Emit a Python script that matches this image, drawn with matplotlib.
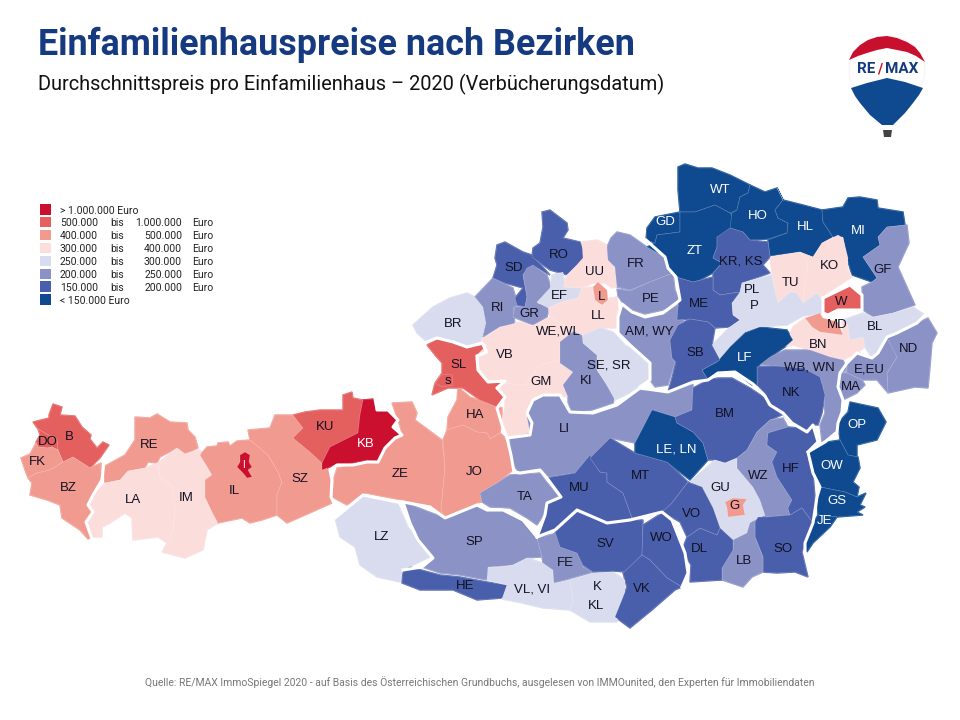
import matplotlib
matplotlib.use('Agg')
import matplotlib.pyplot as plt
from matplotlib.patches import Polygon, Rectangle, Ellipse

plt.rcParams['font.family'] = ['Roboto', 'DejaVu Sans']

legend_colors = ['#CB0F2E', '#E4605F', '#F19A90', '#FBDDDC', '#D9DCEE', '#8A92C6', '#4A5FAB', '#0F4A90']
legend_from = ['', '500.000', '400.000', '300.000', '250.000', '200.000', '150.000', '']
legend_to = ['', '1.000.000', '500.000', '400.000', '300.000', '250.000', '200.000', '']
legend_whole = ['> 1.000.000 Euro', '', '', '', '', '', '', '< 150.000 Euro']

# district codes per price class, same order as the legend
price_classes = [
    ['I', 'KB'],
    ['B', 'DO', 'KU', 'SL', 's', 'W'],
    ['FK', 'BZ', 'RE', 'IL', 'SZ', 'ZE', 'HA', 'JO', 'L', 'MD', 'G'],
    ['LA', 'IM', 'UU', 'LL', 'VB', 'GM', 'TU', 'KO', 'BN'],
    ['BR', 'EF', 'SE', 'P', 'BL', 'LZ', 'VL', 'K', 'GU'],
    ['RI', 'GR', 'FR', 'PE', 'AM', 'KI', 'LI', 'TA', 'SP', 'FE', 'GF', 'ND', 'EU', 'MA', 'WB', 'WZ', 'LB'],
    ['SD', 'RO', 'KR', 'ME', 'SB', 'NK', 'BM', 'MU', 'MT', 'SV', 'WO', 'VK', 'HE', 'VO', 'DL', 'SO', 'HF'],
    ['WT', 'GD', 'ZT', 'HO', 'HL', 'MI', 'LF', 'LE', 'OP', 'OW', 'GS', 'JE'],
]

# district outlines in pixels
west = {
    'B': [(49,415),(53,404),(62,407),(60,415),(75,416),(82,427),(91,435),(90,439),(97,448),(103,442),(109,445),(100,458),(90,468),(73,457),(63,462),(58,450),(57,440),(38,429),(33,422),(49,418)],
    'DO': [(38,429),(57,440),(58,450),(52,447),(48,448),(38,447),(36,442),(40,435)],
    'FK': [(36,443),(38,447),(48,448),(52,447),(58,450),(63,462),(50,470),(37,473),(28,478),(25,470),(21,458),(30,454)],
    'BZ': [(28,478),(37,473),(50,470),(63,462),(73,457),(90,468),(101,463),(101,477),(99,485),(92,495),(88,505),(93,512),(86,522),(92,537),(88,539),(80,530),(62,518),(60,505),(47,500),(30,495),(32,483)],
    'RE': [(135,417),(150,418),(157,414),(170,422),(187,423),(188,430),(195,437),(198,448),(185,454),(177,448),(160,457),(157,463),(148,462),(145,468),(128,471),(120,480),(105,483),(103,467),(125,455),(135,440)],
    'LA': [(93,495),(105,483),(120,480),(128,471),(145,468),(158,463),(160,477),(173,487),(175,510),(173,532),(167,543),(158,537),(133,540),(132,518),(125,513),(110,523),(102,527),(102,537),(92,537),(86,522),(93,512),(88,505)],
    'IM': [(158,463),(177,448),(185,454),(200,450),(202,458),(207,465),(212,475),(205,480),(205,497),(213,512),(218,523),(207,530),(203,550),(185,558),(162,552),(167,543),(173,532),(175,510),(173,487),(160,477)],
    'IL': [(200,455),(207,447),(217,446),(218,443),(228,442),(230,446),(237,441),(250,440),(268,455),(278,472),(282,482),(277,495),(277,515),(262,520),(250,523),(242,518),(218,523),(212,512),(205,497),(205,480),(212,475)],
    'SZ': [(248,430),(270,428),(275,415),(293,415),(303,428),(293,438),(310,452),(322,463),(330,472),(332,503),(312,512),(287,523),(277,515),(277,495),(282,482),(278,472),(268,455),(250,440)],
    'KU': [(293,415),(305,412),(320,410),(343,410),(343,395),(352,392),(353,398),(363,400),(360,415),(358,433),(330,447),(322,463),(310,452),(293,438),(303,428)],
    'KB': [(363,400),(373,399),(377,410),(388,410),(398,420),(393,427),(402,435),(395,438),(385,448),(378,462),(367,460),(353,463),(337,464),(330,467),(322,470),(322,463),(330,447),(358,433),(360,415)],
    'I': [(240,455),(245,452),(250,455),(249,462),(252,467),(248,470),(252,477),(247,478),(243,473),(237,467),(240,462)],
    'LZ': [(335,518),(363,495),(397,502),(408,527),(430,557),(403,570),(400,582),(377,577),(360,565),(355,547),(340,537)],
}

salzburg = {
    'ZE': [(392,403),(412,402),(417,413),(415,420),(442,440),(445,468),(441,510),(445,517),(430,507),(402,500),(365,493),(347,505),(332,497),(334,478),(337,468),(353,465),(367,462),(378,464),(385,450),(395,440),(403,436),(398,420)],
    'HA': [(458,387),(470,397),(487,403),(502,408),(502,420),(500,433),(490,439),(487,433),(477,432),(463,425),(447,430),(448,417),(457,400)],
    'JO': [(447,430),(463,425),(477,432),(487,433),(490,439),(500,433),(508,440),(510,453),(513,470),(497,483),(480,493),(482,502),(477,503),(462,512),(445,517),(441,510),(445,468),(443,440)],
    'SL': [(427,345),(437,339),(453,342),(467,348),(482,345),(485,352),(475,355),(477,370),(487,382),(503,382),(495,388),(505,397),(497,407),(480,400),(463,388),(448,388),(432,395),(435,383),(442,373),(442,363),(435,355)],
    's': [(435,383),(442,374),(452,375),(453,385),(442,387)],
    'TA': [(480,493),(497,483),(510,475),(540,473),(545,480),(560,498),(547,503),(545,513),(537,525),(527,518),(510,508),(490,507),(482,502)],
}

upper_austria = {
    'BR': [(413,325),(433,307),(450,298),(467,293),(475,297),(483,307),(486,323),(480,345),(467,347),(453,342),(437,337),(427,342),(417,333)],
    'RI': [(475,297),(493,278),(513,288),(518,305),(513,308),(515,325),(500,327),(483,337),(486,323),(483,307)],
    'SD': [(495,258),(497,245),(505,242),(523,252),(532,255),(550,275),(537,268),(527,270),(523,275),(527,297),(525,307),(517,305),(515,298),(523,288),(505,283),(493,278),(497,265)],
    'RO': [(542,212),(550,210),(567,223),(568,230),(563,238),(580,242),(587,258),(575,267),(567,275),(550,270),(532,257),(533,248),(540,243),(543,227)],
    'GR': [(527,268),(533,265),(547,275),(552,290),(537,303),(550,307),(547,317),(533,325),(513,317),(515,307),(525,307),(527,297),(523,275)],
    'EF': [(552,275),(563,272),(565,287),(582,288),(578,298),(562,302),(548,308),(537,302),(550,288)],
    'UU': [(563,287),(567,275),(575,267),(583,258),(582,242),(597,240),(607,245),(608,260),(615,267),(617,287),(612,288),(605,283),(593,283),(582,288)],
    'LL': [(562,302),(578,298),(582,288),(593,287),(595,300),(602,305),(610,298),(617,297),(618,310),(617,328),(600,328),(583,337),(573,330),(550,317),(548,308)],
    'L': [(593,287),(598,282),(607,290),(608,300),(602,305),(595,300)],
    'VB': [(481,340),(500,327),(520,322),(533,326),(550,317),(573,331),(560,342),(560,360),(540,365),(525,385),(503,383),(490,382),(480,370),(477,355),(487,345)],
    'GM': [(540,365),(560,360),(560,363),(573,372),(563,385),(568,397),(550,395),(533,400),(527,413),(530,433),(530,437),(507,437),(502,423),(505,408),(505,397),(497,388),(503,383),(525,385)],
    'KI': [(573,332),(582,335),(583,343),(597,355),(597,370),(605,382),(615,397),(613,403),(592,410),(572,413),(568,402),(568,397),(563,385),(573,372),(560,363),(560,342)],
    'SE': [(583,335),(600,328),(613,332),(625,345),(630,348),(650,363),(650,380),(640,385),(632,392),(615,400),(605,382),(597,370),(597,355),(583,343)],
    'FR': [(617,232),(630,235),(647,247),(665,257),(668,268),(673,273),(650,282),(630,290),(617,287),(615,267),(608,260),(607,247),(611,238)],
    'PE': [(617,289),(630,291),(650,282),(673,273),(675,290),(680,302),(663,310),(645,314),(632,310),(622,302),(618,296)],
}

lower_austria = {
    'AM': [(622,304),(632,312),(645,317),(663,313),(678,305),(684,322),(670,340),(672,358),(675,362),(668,385),(655,387),(650,380),(650,363),(630,345),(618,333),(618,317)],
    'WT': [(678,167),(685,164),(698,168),(712,168),(730,175),(750,185),(748,193),(740,197),(737,210),(730,213),(715,205),(695,212),(680,212),(678,190)],
    'GD': [(646,240),(647,228),(655,217),(680,212),(680,220),(680,232),(657,235),(655,243)],
    'ZT': [(655,243),(657,235),(680,232),(680,220),(680,212),(695,212),(715,205),(730,213),(737,225),(745,232),(717,237),(717,247),(713,258),(722,263),(713,273),(700,280),(693,282),(676,277),(668,268),(665,257),(647,247)],
    'HO': [(748,193),(750,185),(765,192),(777,188),(783,200),(775,210),(778,218),(788,223),(787,233),(768,239),(750,240),(743,232),(730,228),(732,213),(737,210),(740,197)],
    'HL': [(777,188),(783,200),(803,205),(822,210),(823,222),(833,237),(822,243),(813,257),(800,252),(770,256),(768,240),(787,233),(788,223),(778,218),(775,210),(783,200)],
    'MI': [(822,210),(843,207),(848,198),(860,197),(877,200),(878,208),(903,212),(905,225),(887,227),(878,237),(880,245),(863,257),(877,278),(872,282),(852,275),(847,258),(843,237),(833,237),(823,222)],
    'GF': [(887,227),(907,225),(909,243),(898,267),(915,305),(893,313),(873,317),(863,310),(862,287),(872,282),(877,278),(863,257),(880,245),(878,237)],
    'KO': [(800,252),(813,257),(822,243),(838,235),(843,238),(848,258),(847,267),(852,277),(827,293),(822,300),(817,293),(803,303),(805,285),(808,262)],
    'TU': [(770,257),(800,252),(808,262),(805,285),(803,303),(797,293),(790,292),(785,298),(778,303),(773,283),(772,273)],
    'KR': [(717,237),(730,228),(743,232),(750,240),(768,242),(770,257),(763,265),(770,273),(742,283),(740,292),(720,295),(713,290),(713,273),(722,263),(713,258),(717,247)],
    'ME': [(676,277),(693,282),(713,277),(713,290),(720,295),(740,292),(740,297),(732,303),(733,315),(740,320),(730,327),(715,328),(708,322),(690,319),(677,320),(678,307),(680,297)],
    'P': [(772,275),(773,283),(778,303),(790,292),(797,293),(803,303),(817,293),(822,300),(823,313),(803,316),(787,325),(760,327),(745,332),(730,347),(720,360),(712,345),(730,327),(740,320),(733,315),(732,303),(740,292),(742,283)],
    'W': [(823,298),(850,285),(862,295),(862,310),(838,310),(828,315),(823,313)],
    'MD': [(805,318),(820,313),(823,318),(838,322),(843,335),(820,332),(812,327)],
    'BN': [(784,347),(793,327),(805,318),(812,327),(820,332),(843,335),(842,320),(848,325),(850,340),(863,337),(865,347),(857,353),(843,360),(830,357),(810,350),(793,345)],
    'BL': [(843,320),(863,313),(873,317),(893,313),(913,307),(925,315),(917,323),(897,333),(887,337),(878,353),(872,358),(865,347),(863,337),(850,340),(848,325)],
    'WB': [(758,365),(770,357),(785,350),(810,350),(830,357),(843,360),(847,370),(838,375),(838,387),(843,400),(842,410),(837,432),(822,442),(820,425),(825,413),(823,385),(815,375),(790,368),(770,365)],
    'NK': [(757,367),(775,366),(803,368),(820,377),(825,395),(822,413),(818,425),(812,425),(807,430),(792,423),(780,412),(770,405),(765,393),(757,385)],
    'LF': [(702,370),(717,362),(730,347),(745,333),(760,327),(787,330),(793,340),(785,347),(770,357),(757,367),(757,385),(752,385),(735,372),(718,372),(708,380)],
    'SB': [(670,340),(678,325),(690,319),(708,322),(715,328),(712,345),(720,360),(702,370),(708,380),(693,382),(668,392),(672,378),(676,362),(672,358)],
}

burgenland = {
    'ND': [(897,333),(917,323),(928,318),(937,333),(932,343),(930,367),(928,388),(915,387),(888,393),(887,373),(897,357),(887,347),(887,338)],
    'EU': [(887,338),(897,357),(887,373),(888,393),(877,380),(862,380),(847,373),(847,363),(857,352),(872,358),(878,353)],
    'MA': [(840,373),(847,373),(862,380),(865,385),(857,393),(843,400),(838,387)],
    'OP': [(850,402),(878,408),(886,422),(877,440),(857,445),(857,457),(848,455),(840,440),(838,423),(848,412)],
    'OW': [(808,452),(827,442),(840,440),(848,455),(858,457),(860,468),(853,482),(859,487),(857,497),(845,492),(820,487),(813,473)],
    'GS': [(820,487),(845,492),(857,497),(866,493),(860,505),(865,507),(857,512),(863,515),(837,517),(818,515),(817,497)],
    'JE': [(818,515),(837,517),(830,527),(813,543),(807,552),(805,543),(813,523)],
}

styria = {
    'LI': [(530,433),(527,417),(530,403),(543,395),(560,395),(570,412),(593,413),(617,405),(640,390),(668,392),(693,384),(692,410),(675,417),(653,410),(635,443),(610,438),(598,450),(590,462),(575,473),(547,477),(540,470),(520,473),(513,465),(510,450),(510,437)],
    'MU': [(547,478),(575,473),(590,455),(600,472),(607,473),(607,482),(623,493),(632,518),(607,523),(577,510),(555,530),(538,538),(545,515),(547,503),(561,497)],
    'MT': [(590,458),(600,448),(610,438),(635,453),(667,462),(688,482),(672,503),(662,513),(632,518),(623,493),(607,482),(607,473),(600,472)],
    'LE': [(635,443),(652,410),(675,417),(677,423),(693,432),(703,443),(708,460),(690,480),(667,462),(635,453)],
    'BM': [(693,388),(708,380),(718,378),(732,378),(750,388),(765,398),(768,405),(782,415),(770,420),(757,432),(747,450),(737,458),(725,463),(715,460),(708,460),(703,443),(693,432),(677,423),(675,417),(692,410)],
    'GU': [(690,482),(715,460),(725,463),(737,458),(737,468),(753,487),(760,500),(765,515),(750,523),(747,533),(733,540),(720,528),(713,508),(702,487)],
    'G': [(725,502),(733,498),(747,499),(743,505),(745,515),(728,517),(727,508)],
    'WZ': [(757,432),(770,420),(783,418),(788,427),(768,433),(767,445),(777,452),(772,462),(777,477),(792,500),(788,508),(790,515),(767,517),(765,515),(760,500),(753,487),(737,468),(737,458),(747,450)],
    'HF': [(768,433),(788,427),(800,428),(807,432),(813,425),(818,440),(807,452),(813,473),(815,497),(813,523),(802,508),(790,515),(788,508),(792,500),(777,477),(772,462),(777,452),(767,445)],
    'SO': [(755,522),(758,517),(767,517),(790,515),(802,508),(813,523),(802,552),(808,577),(795,572),(777,573),(763,572),(763,557),(755,537)],
    'LB': [(733,540),(747,533),(750,523),(755,520),(755,537),(763,557),(763,572),(752,577),(743,587),(722,580),(722,568),(733,550)],
    'DL': [(687,537),(700,528),(717,535),(720,528),(733,540),(733,550),(722,568),(722,580),(690,582),(691,565),(682,550)],
    'VO': [(690,483),(702,487),(713,508),(720,528),(717,535),(700,528),(687,537),(680,522),(662,512),(672,503),(688,482)],
}

carinthia = {
    'SP': [(403,502),(445,518),(477,505),(487,510),(503,510),(523,520),(537,537),(542,557),(527,558),(513,565),(490,567),(487,580),(460,575),(440,573),(422,567),(433,558),(418,540),(410,523)],
    'HE': [(403,572),(410,567),(440,575),(460,577),(487,582),(507,585),(503,598),(477,600),(453,590),(420,590),(402,583)],
    'VL': [(488,567),(503,567),(513,565),(527,558),(543,563),(553,570),(554,583),(570,580),(573,600),(570,610),(543,608),(522,603),(502,599),(507,585),(487,580)],
    'K': [(570,580),(593,573),(613,572),(625,580),(625,597),(617,622),(590,622),(570,610),(573,600)],
    'FE': [(537,538),(557,533),(560,547),(577,553),(583,567),(593,572),(554,583),(553,570),(543,563),(542,557)],
    'SV': [(555,532),(577,512),(607,523),(630,520),(643,520),(642,555),(625,572),(613,571),(593,572),(583,565),(577,553),(560,547)],
    'WO': [(643,525),(662,513),(672,520),(685,553),(688,573),(682,587),(667,578),(650,560),(642,555)],
    'VK': [(642,555),(650,560),(667,578),(682,587),(675,590),(652,610),(630,628),(615,617),(627,587),(623,573)],
}

label_names = ['B', 'DO', 'FK', 'BZ', 'RE', 'LA', 'IM', 'IL', 'SZ', 'KU', 'ZE', 'JO', 'HA', 'LZ', 'SP', 'HE', 'VL, VI', 'K', 'KL', 'FE',
               'TA', 'MU', 'MT', 'LI', 'SV', 'WO', 'VK', 'VO', 'DL', 'LB', 'SO', 'GU', 'G', 'WZ', 'HF', 'BM', 'NK', 'MA', 'E,EU', 'ND',
               'WB, WN', 'BN', 'BL', 'MD', 'W', 'GF', 'KO', 'TU', 'PL', 'P', 'SB', 'ME', 'KR, KS', 'FR', 'PE', 'AM, WY', 'SE, SR', 'KI',
               'GM', 'VB', 'WE,WL', 'LL', 'L', 'UU', 'EF', 'GR', 'RI', 'SD', 'RO', 'BR', 'SL', 's']
label_x = [69, 48, 37, 68, 149, 133, 186, 234, 300, 325, 400, 474, 475, 382, 474, 465, 532, 597, 596, 565,
           525, 579, 640, 564, 605, 661, 642, 692, 699, 744, 783, 720, 735, 758, 791, 725, 791, 851, 869, 908,
           809, 818, 875, 837, 841, 883, 829, 791, 752, 754, 695, 699, 741, 636, 651, 649, 609, 586,
           541, 505, 558, 598, 602, 595, 559, 529, 498, 514, 559, 453, 459, 448]
label_y = [437, 442, 462, 488, 445, 500, 498, 491, 479, 427, 474, 472, 415, 537, 542, 586, 589, 587, 606, 563,
           497, 488, 476, 429, 544, 538, 589, 514, 549, 561, 549, 488, 506, 476, 469, 414, 393, 387, 369, 349,
           367, 345, 327, 325, 302, 270, 266, 283, 290, 306, 353, 304, 261, 264, 299, 331, 366, 381,
           382, 355, 332, 316, 297, 272, 296, 314, 308, 268, 255, 324, 365, 381]
white_names = ['I', 'KB', 'LE, LN', 'JE', 'GS', 'OW', 'OP', 'LF', 'ZT', 'GD', 'WT', 'HO', 'HL', 'MI']
white_x = [243, 366, 676, 825, 837, 832, 857, 745, 695, 665, 720, 758, 805, 858]
white_y = [465, 444, 449, 521, 501, 466, 425, 358, 251, 222, 190, 216, 227, 231]

# thick white lines between the federal states
state_lines = [
    [(104,462),(102,480),(93,495),(88,505),(93,512),(86,522),(92,539)],
    [(375,398),(377,410),(388,410),(398,420),(393,427),(402,435),(395,438),(385,448),(378,462),(367,462),(353,465),(337,465),(330,470),(332,480),(331,497),(335,505)],
    [(335,518),(363,495),(397,502),(403,502),(410,523),(418,540),(433,558),(422,567),(403,570)],
    [(427,342),(437,338),(453,342),(467,347),(482,343),(487,352),(477,356),(478,370),(488,382),(505,381),(497,388),(505,397),(497,408),(502,425),(507,438),(511,455),(514,472),(520,473),(540,470),(547,478),(561,497),(547,503),(545,515),(537,537)],
    [(537,537),(523,520),(503,510),(487,510),(477,505),(445,518),(430,507),(403,502)],
    [(507,438),(530,435),(532,423),(527,413),(533,400),(543,395),(560,395),(570,412),(593,413),(617,405),(640,388),(668,392),(693,382),(708,380),(718,373),(735,372),(753,384),(765,396),(770,405),(783,413),(792,423),(807,432),(813,425),(818,442),(808,452),(813,473),(820,487),(817,497),(813,523),(805,543),(805,552)],
    [(646,240),(665,257),(668,268),(676,277),(680,300),(663,313),(645,317),(632,312),(622,304),(618,317),(618,333),(630,345),(650,363),(650,380),(640,387)],
    [(925,315),(917,323),(897,333),(887,337),(878,353),(872,358),(857,353),(847,363),(840,373),(838,387),(843,400),(842,412),(838,423),(837,432),(825,442),(808,452)],
    [(823,298),(850,285),(862,295),(862,310),(838,310),(828,315),(823,313),(823,298)],
    [(537,537),(555,530),(577,510),(607,523),(630,520),(662,512),(672,520),(685,553),(688,573),(682,587)],
]

# balloon logo outlines
balloon_red = [(849,60),(853,52),(860,45),(868,40),(877,37),(887,36),(897,38),(907,42),(915,47),(920,53),(925,62),(916,56),(907,52),(897,50),(887,48),(877,50),(867,53),(858,56)]
balloon_blue = [(851,88),(867,83),(887,78),(905,82),(923,88),(919,95),(913,103),(905,113),(893,125),(882,125),(870,115),(860,103),(855,96)]
balloon_basket = [(883,130),(892,130),(891,137),(884,137)]

fig = plt.figure(figsize=(9.6, 7.2), dpi=100)
ax = fig.add_axes([0, 0, 1, 1])
ax.set_xlim(0, 960)
ax.set_ylim(720, 0)
ax.axis('off')

colors = {}
for cls, codes in zip(legend_colors, price_classes):
    for code in codes:
        colors[code] = cls

small_ones = ['I', 's', 'L', 'MD', 'G']
states = [west, salzburg, upper_austria, lower_austria, burgenland, styria, carinthia]
for state in states:
    for code, pts in state.items():
        # first pass closes the small gaps between traced neighbours
        if code not in small_ones:
            ax.add_patch(Polygon(pts, closed=True, facecolor=colors[code], edgecolor=colors[code], linewidth=1.0, zorder=1))
for state in states:
    for code, pts in state.items():
        z = 3 if code in small_ones else 2
        ax.add_patch(Polygon(pts, closed=True, facecolor=colors[code], edgecolor=(1, 1, 1, 0.3), linewidth=0.4, zorder=z))

for line in state_lines:
    xs = [p[0] for p in line]
    ys = [p[1] for p in line]
    ax.plot(xs, ys, color='white', lw=2.2, solid_joinstyle='round', zorder=4)

for name, x, y in zip(label_names, label_x, label_y):
    ax.text(x, y, name, ha='center', va='center', fontsize=9.5, color='#111122', family=['Liberation Sans'], zorder=5)
for name, x, y in zip(white_names, white_x, white_y):
    ax.text(x, y, name, ha='center', va='center', fontsize=9.5 if name != 'I' else 7, color='white', family=['Liberation Sans'], zorder=5)

# legend
for i, c in enumerate(legend_colors):
    y = 209.5 + i * 12.9
    ax.add_patch(Rectangle((40, y - 5.5), 10.5, 10.5, facecolor=c, edgecolor='none'))
    if legend_whole[i]:
        ax.text(60, y + 1, legend_whole[i], fontsize=7.5, va='center', color='#222222')
    else:
        ax.text(60, y + 1, legend_from[i], fontsize=7.5, va='center', color='#222222')
        ax.text(110, y + 1, 'bis', fontsize=7.5, va='center', color='#222222')
        ax.text(182, y + 1, legend_to[i], fontsize=7.5, va='center', ha='right', color='#222222')
        ax.text(192, y + 1, 'Euro', fontsize=7.5, va='center', color='#222222')

ax.text(38, 45, 'Einfamilienhauspreise nach Bezirken', fontsize=25.8, fontweight='bold', color='#163A80', va='center')
ax.text(38, 84, 'Durchschnittspreis pro Einfamilienhaus \u2013 2020 (Verb\u00fccherungsdatum)', fontsize=14.45, color='#111111', va='center')
ax.text(480, 682, 'Quelle: RE/MAX ImmoSpiegel 2020 - auf Basis des \u00d6sterreichischen Grundbuchs, ausgelesen von IMMOunited, den Experten f\u00fcr Immobiliendaten',
        fontsize=7.47, color='#777777', ha='center', va='center')

# logo
ax.add_patch(Ellipse((887, 70), 76, 68, facecolor='white', edgecolor='#EEEEEE', lw=0.5, zorder=1))
ax.add_patch(Polygon(balloon_red, closed=True, facecolor='#C8102E', edgecolor='none', zorder=2))
ax.add_patch(Polygon(balloon_blue, closed=True, facecolor='#0F4A90', edgecolor='none', zorder=2))
ax.add_patch(Polygon(balloon_basket, closed=True, facecolor='#444444', edgecolor='none', zorder=2))
ax.text(875, 69, 'RE', fontsize=11, fontweight='bold', color='#163A80', ha='right', va='center', zorder=3)
ax.text(880, 69, '/', fontsize=10, fontweight='bold', color='#C8102E', ha='center', va='center', zorder=3)
ax.text(884.5, 69, 'MAX', fontsize=11, fontweight='bold', color='#163A80', ha='left', va='center', zorder=3)

plt.savefig('out.png', dpi=100)
